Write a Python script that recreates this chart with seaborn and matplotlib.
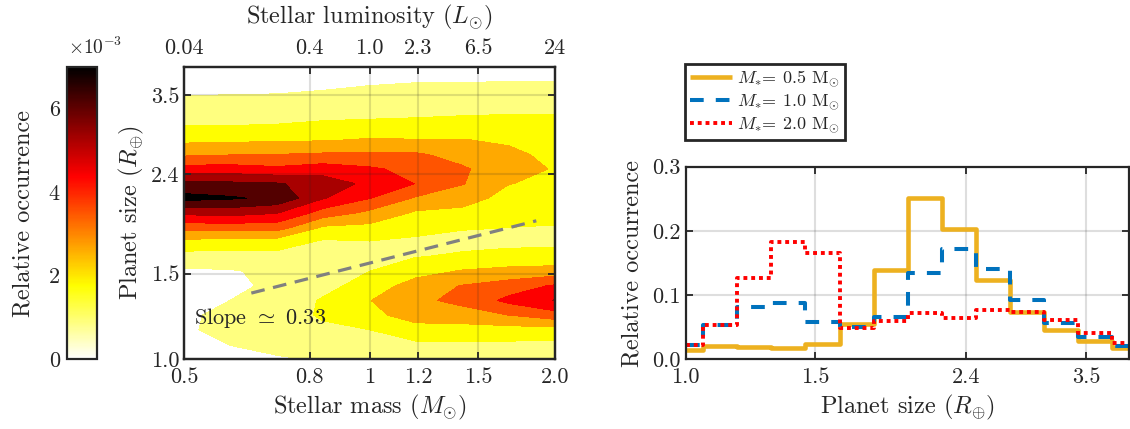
import numpy as np
import pandas as pd
import matplotlib
matplotlib.use("Agg")
import matplotlib.pyplot as plt
from matplotlib.colors import LinearSegmentedColormap, Normalize
from matplotlib.cm import ScalarMappable
from matplotlib.ticker import NullLocator
import seaborn as sns

sns.set_style("white")
plt.rcParams.update({
    "font.family": ["cmr10", "DejaVu Serif"],
    "mathtext.fontset": "cm",
    "axes.formatter.use_mathtext": True,
    "axes.unicode_minus": False,
})

# ---------------- data: occurrence map (x1e-3) ----------------
stellar_mass = [0.5, 0.595, 0.707, 0.841, 1.0, 1.189, 1.414, 1.682, 2.0]
planet_size = [1.000, 1.072, 1.149, 1.231, 1.320, 1.414, 1.516, 1.625, 1.741,
               1.866, 2.000, 2.144, 2.297, 2.462, 2.639, 2.828, 3.031, 3.249,
               3.482, 3.732, 4.000]
occ_m050 = [0.30, 0.50, 0.80, 0.80, 0.60, 0.50, 0.75, 1.41, 2.35, 3.88, 5.46, 7.30, 6.33, 4.72, 3.34, 2.41, 1.72, 1.30, 0.89, 0.50, 0.30]
occ_m059 = [0.60, 0.90, 1.05, 1.00, 0.88, 0.70, 0.80, 1.40, 2.20, 3.90, 5.60, 7.10, 6.30, 4.75, 3.45, 2.45, 1.74, 1.30, 0.90, 0.55, 0.30]
occ_m071 = [0.80, 1.10, 1.35, 1.40, 1.20, 1.05, 1.10, 1.45, 2.20, 3.90, 5.30, 6.80, 6.20, 4.55, 3.50, 2.50, 1.78, 1.33, 0.92, 0.60, 0.35]
occ_m084 = [0.95, 1.30, 1.60, 1.85, 1.85, 1.45, 1.20, 1.25, 1.60, 2.50, 4.00, 5.30, 5.75, 4.80, 3.60, 2.55, 1.90, 1.40, 0.98, 0.70, 0.40]
occ_m100 = [1.10, 1.40, 1.75, 2.40, 2.60, 2.20, 1.75, 1.40, 1.70, 2.40, 3.30, 4.40, 5.00, 4.50, 3.65, 2.70, 1.95, 1.45, 1.05, 0.80, 0.45]
occ_m119 = [1.20, 1.60, 2.30, 3.00, 3.30, 3.00, 2.30, 1.72, 1.60, 2.00, 2.50, 3.40, 4.35, 4.10, 3.60, 2.65, 2.00, 1.50, 1.10, 0.85, 0.50]
occ_m141 = [1.20, 1.60, 2.30, 3.10, 3.75, 3.55, 2.70, 1.85, 1.55, 1.80, 2.40, 3.00, 3.55, 3.60, 3.20, 2.65, 2.10, 1.55, 1.15, 0.85, 0.55]
occ_m168 = [1.25, 1.60, 2.30, 3.50, 4.60, 3.90, 2.90, 1.95, 1.60, 1.75, 2.00, 2.30, 2.65, 3.00, 2.80, 2.50, 2.15, 1.60, 1.20, 0.87, 0.60]
occ_m200 = [1.25, 1.55, 2.30, 4.00, 5.30, 4.50, 3.00, 2.00, 1.60, 1.70, 2.00, 2.20, 2.40, 2.55, 2.40, 2.20, 2.00, 1.65, 1.20, 0.88, 0.65]

mass_ticks = [0.5, 0.8, 1.0, 1.2, 1.5, 2.0]
mass_labels = ["0.5", "0.8", "1", "1.2", "1.5", "2.0"]
lum_labels = ["0.04", "0.4", "1.0", "2.3", "6.5", "24"]
size_ticks = [1.0, 1.5, 2.4, 3.5]
size_labels = ["1.0", "1.5", "2.4", "3.5"]
cbar_ticks = [0, 2e-3, 4e-3, 6e-3]
cbar_labels = ["0", "2", "4", "6"]

slope_mass = [0.643, 1.865]
slope_size = [1.367, 1.926]

# ---------------- data: histograms ----------------
hist_size = [1.0, 1.1125, 1.2377, 1.3770, 1.5319, 1.7043, 1.8960, 2.1094,
             2.3467, 2.6108, 2.9046, 3.2314, 3.5950, 4.0]
hist_m05 = [0.014, 0.021, 0.019, 0.017, 0.024, 0.055, 0.139, 0.252, 0.203, 0.123, 0.074, 0.045, 0.028, 0.017]
hist_m10 = [0.023, 0.053, 0.081, 0.087, 0.058, 0.051, 0.066, 0.134, 0.172, 0.141, 0.093, 0.056, 0.034, 0.020]
hist_m20 = [0.022, 0.053, 0.126, 0.182, 0.165, 0.048, 0.060, 0.072, 0.064, 0.077, 0.073, 0.061, 0.041, 0.025]
hist_labels = [r"$M_{*}$= 0.5 M$_{\odot}$", r"$M_{*}$= 1.0 M$_{\odot}$", r"$M_{*}$= 2.0 M$_{\odot}$"]
hist_xticks = [1.0, 1.5, 2.4, 3.5]
hist_xlabels = ["1.0", "1.5", "2.4", "3.5"]
hist_yticks = [0.0, 0.1, 0.2, 0.3]
hist_ylabels = ["0.0", "0.1", "0.2", "0.3"]

# ---------------- style ----------------
W, H = 1130, 429
EDGE = "#262626"
TICK_FS = 16
LABEL_FS = 17.5

cmap = LinearSegmentedColormap.from_list(
    "hot_flipped", [(0.0, (1, 1, 1)), (0.25, (1, 1, 0)), (0.625, (1, 0, 0)), (1.0, (0, 0, 0))])
levels = [0, 0.875e-3, 1.75e-3, 2.625e-3, 3.5e-3, 4.375e-3, 5.25e-3, 6.125e-3, 7.0e-3, 1.0]
band_colors = [cmap(k / 8) for k in range(9)]

fig = plt.figure(figsize=(W / 100, H / 100), dpi=100)
cax = fig.add_axes([66.7 / W, 1 - 359.3 / H, 30 / W, (359.3 - 66.7) / H])
ax1 = fig.add_axes([184 / W, 1 - 359 / H, 371 / W, (359 - 66.7) / H])
ax2 = fig.add_axes([685.7 / W, 1 - 359.3 / H, (1129 - 685.7) / W, (359.3 - 166.7) / H])


def style_spines(ax):
    for s in ax.spines.values():
        s.set_linewidth(1.6)
        s.set_color(EDGE)
        s.set_visible(True)


# ---------------- contour map ----------------
Z = np.column_stack([occ_m050, occ_m059, occ_m071, occ_m084, occ_m100,
                     occ_m119, occ_m141, occ_m168, occ_m200]) * 1e-3
ax1.contourf(stellar_mass, planet_size, Z, levels=levels, colors=band_colors,
             antialiased=False, zorder=0.5)
ax1.set_xscale("log")
ax1.set_yscale("log")
sns.lineplot(x=slope_mass, y=slope_size, ax=ax1, color="#808080", lw=2.3,
             linestyle=(0, (4.3, 2.7)), zorder=3)
ax1.text(0.52, 1.213, r"Slope $\simeq$ 0.33", fontsize=16, va="center", ha="left", zorder=4)
ax1.set_xlim(0.5, 2.0)
ax1.set_ylim(1.0, 4.0)
ax1.set_xticks(mass_ticks)
ax1.set_xticklabels(mass_labels)
ax1.set_yticks(size_ticks)
ax1.set_yticklabels(size_labels)
ax1.xaxis.set_minor_locator(NullLocator())
ax1.yaxis.set_minor_locator(NullLocator())
ax1.set_axisbelow(False)
ax1.grid(True, which="major", color=EDGE, alpha=0.15, lw=1.5)
ax1.tick_params(axis="both", which="major", direction="in", length=5, width=1.3,
                labelsize=TICK_FS, color=EDGE, bottom=True, left=True, right=True, top=False)
ax1.tick_params(axis="x", pad=6)
ax1.tick_params(axis="y", pad=3)
ax1.set_xlabel(r"Stellar mass ($M_{\odot}$)", fontsize=LABEL_FS, labelpad=4)
ax1.set_ylabel(r"Planet size ($R_{\oplus}$)", fontsize=LABEL_FS, labelpad=4)
style_spines(ax1)

ax_top = ax1.twiny()
ax_top.set_xscale("log")
ax_top.set_xlim(0.5, 2.0)
ax_top.set_xticks(mass_ticks)
ax_top.set_xticklabels(lum_labels)
ax_top.xaxis.set_minor_locator(NullLocator())
ax_top.tick_params(axis="x", which="major", direction="in", length=5, width=1.3,
                   labelsize=TICK_FS, color=EDGE, top=True, bottom=False, pad=6)
ax_top.set_xlabel(r"Stellar luminosity ($L_{\odot}$)", fontsize=LABEL_FS, labelpad=11)
ax_top.grid(False)
style_spines(ax_top)

# ---------------- colorbar ----------------
sm = ScalarMappable(norm=Normalize(0, 7e-3), cmap=cmap)
cb = fig.colorbar(sm, cax=cax)
cb.set_ticks(cbar_ticks)
cb.set_ticklabels(cbar_labels)
cax.yaxis.set_ticks_position("left")
cax.yaxis.set_label_position("left")
cax.tick_params(axis="y", direction="in", length=4, width=1.3, labelsize=TICK_FS,
                color=EDGE, pad=5, left=True, right=False)
cb.outline.set_linewidth(1.6)
cb.outline.set_edgecolor(EDGE)
cb.set_label("Relative occurrence", fontsize=LABEL_FS, labelpad=10)
fig.text(68 / W, 1 - 47 / H, r"$\times10^{-3}$", fontsize=14, ha="left", va="center")

# ---------------- histograms ----------------
series = [(hist_m05, "#EDB120", "-", 3.3),
          (hist_m10, "#0072BD", (0, (3.4, 3.0)), 2.9),
          (hist_m20, "#FF0000", (0, (1.0, 1.0)), 2.8)]
for (vals, col, ls, lw), lab in zip(series, hist_labels):
    df = pd.DataFrame({"size": hist_size, "occ": vals})
    sns.lineplot(data=df, x="size", y="occ", ax=ax2, color=col, lw=lw,
                 linestyle=ls, drawstyle="steps-mid", label=lab,
                 solid_capstyle="butt", dash_capstyle="butt")
ax2.set_xscale("log")
ax2.set_xlim(1.0, 4.0)
ax2.set_ylim(0.0, 0.3)
ax2.set_xticks(hist_xticks)
ax2.set_xticklabels(hist_xlabels)
ax2.set_yticks(hist_yticks)
ax2.set_yticklabels(hist_ylabels)
ax2.xaxis.set_minor_locator(NullLocator())
ax2.yaxis.set_minor_locator(NullLocator())
ax2.grid(True, which="major", color=EDGE, alpha=0.15, lw=1.5)
ax2.tick_params(axis="both", which="major", direction="in", length=5, width=1.3,
                labelsize=TICK_FS, color=EDGE, bottom=True, left=True, right=True, top=True)
ax2.tick_params(axis="x", pad=6)
ax2.tick_params(axis="y", pad=4)
ax2.set_xlabel(r"Planet size ($R_{\oplus}$)", fontsize=LABEL_FS, labelpad=4)
ax2.set_ylabel("Relative occurrence", fontsize=LABEL_FS, labelpad=6)
style_spines(ax2)

leg = ax2.legend(loc="upper left", bbox_to_anchor=(685 / W, 1 - 64 / H),
                 bbox_transform=fig.transFigure, frameon=True, fancybox=False,
                 framealpha=1, edgecolor=EDGE, fontsize=13, handlelength=2.3,
                 handletextpad=0.3, labelspacing=0.2, borderpad=0.3,
                 borderaxespad=0)
leg.get_frame().set_linewidth(2.0)

fig.savefig("out.png", dpi=100)
